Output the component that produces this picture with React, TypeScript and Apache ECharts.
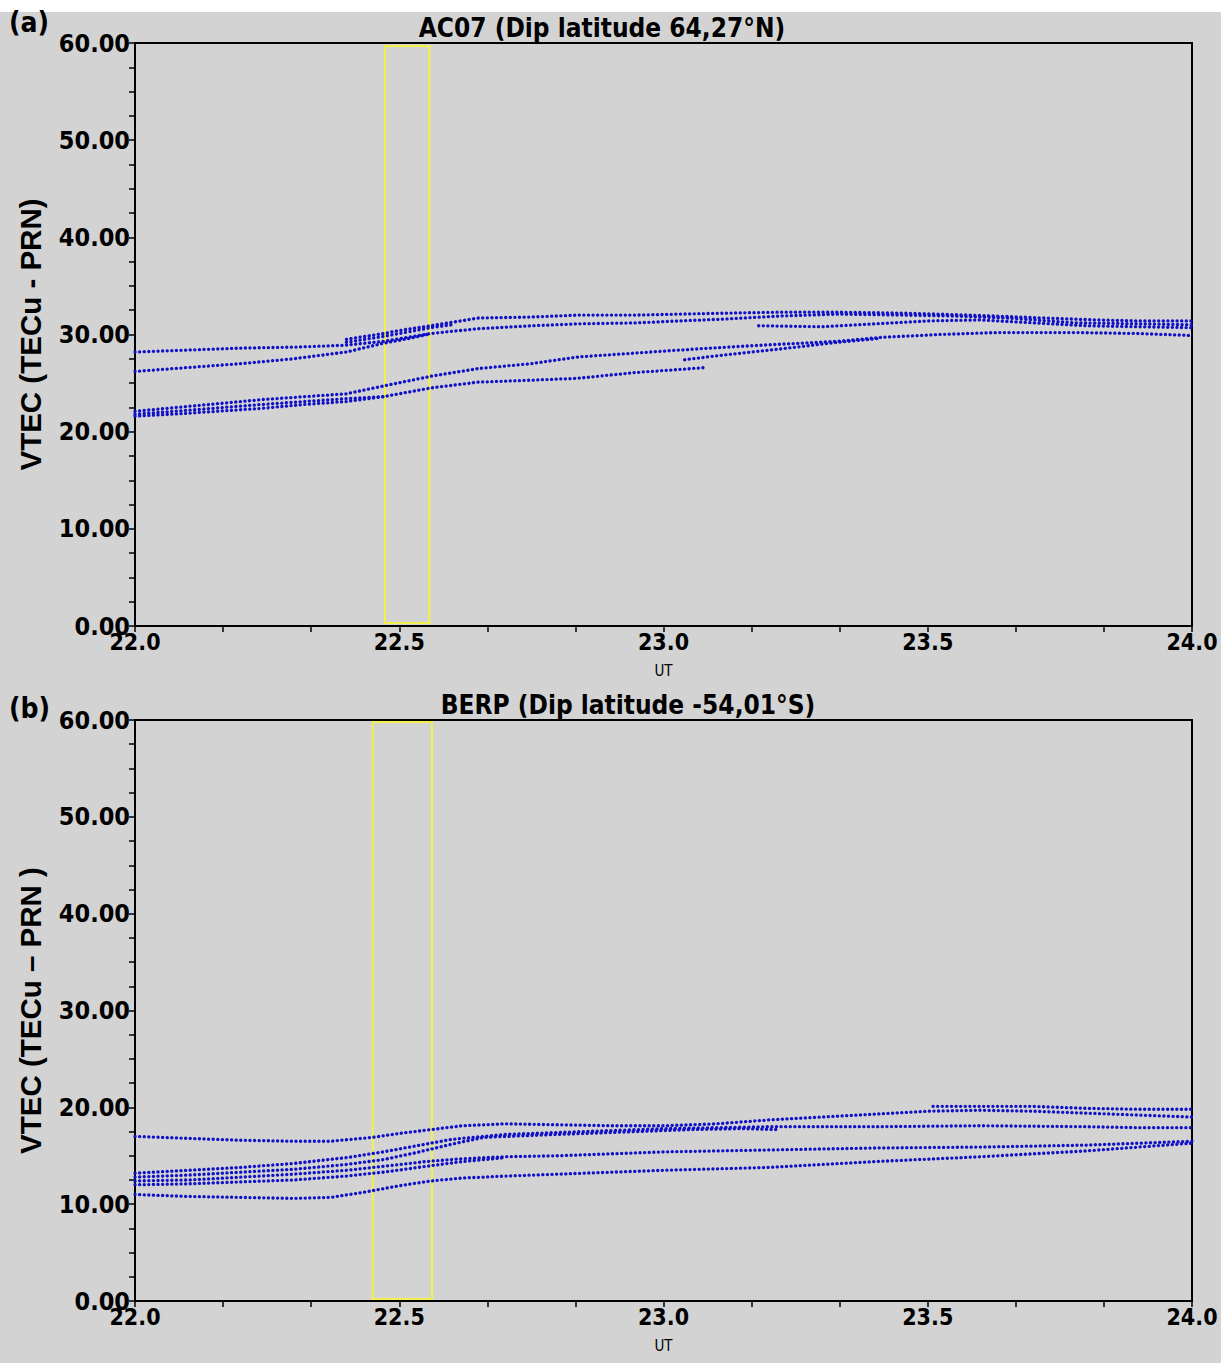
import React, { useEffect, useRef } from "react";
import * as echarts from "echarts";

// ---------- data (UT hours, VTEC in TECu) ----------
const X_MIN = 22;
const X_MAX = 24;
const Y_MIN = 0;
const Y_MAX = 60;

const panelTitles = ["AC07 (Dip latitude 64,27°N)", "BERP (Dip latitude -54,01°S)"];
const panelTags = ["(a)", "(b)"];
const yAxisNames = ["VTEC (TECu - PRN)", "VTEC (TECu – PRN )"];
const xAxisName = "UT";

// highlighted window [x0, y0, x1, y1]
const highlightA = [22.473, 0.3, 22.557, 59.7];
const highlightB = [22.45, 0.2, 22.562, 59.8];

// ----- AC07 tracks -----
const acTrackA = [[22.0, 28.2], [22.1, 28.4], [22.2, 28.6], [22.3, 28.7], [22.4, 28.9], [22.47, 29.3], [22.56, 30.1], [22.65, 30.6], [22.75, 30.9], [22.84, 31.1], [22.95, 31.2], [23.03, 31.4], [23.12, 31.6], [23.22, 31.9], [23.33, 32.1], [23.45, 32.0], [23.55, 31.9], [23.65, 31.7], [23.78, 31.2], [23.9, 31.1], [24.0, 31.0]];
const acTrackB = [[22.0, 26.2], [22.1, 26.6], [22.2, 27.0], [22.3, 27.5], [22.4, 28.2], [22.47, 29.1], [22.52, 29.6], [22.56, 30.1]];
const acTrackC = [[22.4, 29.5], [22.47, 30.1], [22.51, 30.5], [22.56, 30.9], [22.65, 31.7], [22.75, 31.8], [22.84, 32.0], [22.95, 32.0], [23.03, 32.1], [23.12, 32.2], [23.22, 32.3], [23.33, 32.3], [23.45, 32.2], [23.52, 32.1], [23.63, 31.9], [23.72, 31.7], [23.82, 31.5], [23.9, 31.4], [24.0, 31.4]];
const acTrackH = [[22.4, 29.2], [22.47, 29.8], [22.51, 30.2], [22.56, 30.7], [22.6, 31.0]];
const acTrackG = [[23.18, 30.9], [23.3, 30.8], [23.4, 31.1], [23.5, 31.4], [23.6, 31.5], [23.7, 31.2], [23.8, 30.9], [23.9, 30.8], [24.0, 30.7]];
const acTrackD = [[22.0, 22.1], [22.1, 22.6], [22.24, 23.3], [22.32, 23.6], [22.4, 23.9], [22.47, 24.7], [22.56, 25.7], [22.65, 26.5], [22.75, 27.0], [22.84, 27.7], [22.95, 28.1], [23.03, 28.4], [23.12, 28.7], [23.22, 29.0], [23.33, 29.3], [23.41, 29.7], [23.52, 30.0], [23.63, 30.2], [23.78, 30.2], [23.9, 30.1], [24.0, 29.9]];
const acTrackD2 = [[23.04, 27.4], [23.1, 27.8], [23.22, 28.5], [23.33, 29.2], [23.41, 29.6]];
const acTrackE = [[22.0, 21.6], [22.1, 21.9], [22.24, 22.4], [22.32, 22.8], [22.4, 23.1], [22.47, 23.6], [22.56, 24.5], [22.65, 25.1], [22.75, 25.3], [22.84, 25.5], [22.95, 26.1], [23.03, 26.4], [23.08, 26.6]];
const acTrackF = [[22.0, 21.8], [22.1, 22.2], [22.24, 22.8], [22.32, 23.1], [22.4, 23.4], [22.47, 23.6]];

// ----- BERP tracks -----
const berpTrack1 = [[22.0, 17.0], [22.1, 16.8], [22.2, 16.6], [22.3, 16.5], [22.37, 16.5], [22.45, 16.9], [22.5, 17.3], [22.56, 17.7], [22.62, 18.1], [22.7, 18.3], [22.8, 18.2], [22.9, 18.1], [23.0, 18.1], [23.1, 18.3], [23.2, 18.7], [23.3, 19.0], [23.4, 19.3], [23.5, 19.6], [23.6, 19.7], [23.7, 19.6], [23.8, 19.4], [23.9, 19.2], [24.0, 19.0]];
const berpTrack2 = [[23.51, 20.1], [23.6, 20.1], [23.7, 20.1], [23.8, 19.9], [23.9, 19.8], [24.0, 19.8]];
const berpTrack3 = [[22.0, 13.2], [22.1, 13.5], [22.2, 13.8], [22.3, 14.2], [22.4, 14.8], [22.47, 15.4], [22.53, 16.0], [22.6, 16.7], [22.7, 17.2], [22.8, 17.4], [22.9, 17.6], [23.0, 17.8], [23.1, 17.9], [23.2, 18.0], [23.4, 18.0], [23.6, 18.1], [23.8, 18.0], [23.9, 17.9], [24.0, 17.9]];
const berpTrack4 = [[22.0, 12.8], [22.1, 13.0], [22.2, 13.3], [22.3, 13.6], [22.4, 14.1], [22.47, 14.6], [22.53, 15.3], [22.6, 16.2], [22.66, 16.9], [22.75, 17.1], [22.85, 17.3], [22.95, 17.5], [23.05, 17.7], [23.15, 17.8], [23.22, 17.7]];
const berpTrack5 = [[22.0, 12.4], [22.1, 12.5], [22.2, 12.8], [22.3, 13.1], [22.4, 13.5], [22.47, 13.9], [22.55, 14.4], [22.62, 14.7], [22.7, 14.9], [22.8, 15.0], [22.9, 15.2], [23.0, 15.4], [23.2, 15.6], [23.4, 15.8], [23.6, 15.9], [23.8, 16.1], [24.0, 16.5]];
const berpTrack6 = [[22.0, 12.0], [22.1, 12.1], [22.2, 12.3], [22.3, 12.5], [22.4, 12.9], [22.47, 13.3], [22.55, 13.9], [22.62, 14.4], [22.7, 14.8]];
const berpTrack7 = [[22.0, 11.0], [22.1, 10.8], [22.2, 10.7], [22.3, 10.6], [22.37, 10.7], [22.43, 11.2], [22.5, 11.9], [22.56, 12.4], [22.62, 12.7], [22.7, 12.9], [22.8, 13.1], [22.9, 13.3], [23.0, 13.5], [23.2, 13.8], [23.4, 14.4], [23.6, 14.9], [23.8, 15.5], [23.9, 15.9], [24.0, 16.3]];

const acTracks = [acTrackA, acTrackB, acTrackC, acTrackH, acTrackG, acTrackD, acTrackD2, acTrackE, acTrackF];
const berpTracks = [berpTrack1, berpTrack2, berpTrack3, berpTrack4, berpTrack5, berpTrack6, berpTrack7];

// ---------- styles ----------
const BG = "#d3d3d3";
const DOT = "#1010c8";
const YELLOW = "#f2f04a";
const COND = "'DejaVu Sans Condensed', 'Liberation Sans Narrow', 'DejaVu Sans', sans-serif";
const ARIAL = "'Liberation Sans', Arial, sans-serif";

const GRID_LEFT = 135;
const GRID_WIDTH = 1057;
const GRID_TOPS = [43, 720];
const GRID_HEIGHTS = [583, 581];

function trackSeries(data: number[][], idx: number) {
  return {
    type: "line",
    xAxisIndex: idx,
    yAxisIndex: idx,
    data,
    showSymbol: false,
    symbol: "none",
    silent: true,
    z: 3,
    lineStyle: { color: DOT, width: 3.3, type: [0.1, 4.5], cap: "round" },
  };
}

function boxSeries(box: number[], idx: number) {
  return {
    type: "scatter",
    xAxisIndex: idx,
    yAxisIndex: idx,
    data: [],
    silent: true,
    z: 10,
    markArea: {
      silent: true,
      label: { show: false },
      itemStyle: { color: "rgba(0,0,0,0)", borderColor: YELLOW, borderWidth: 2 },
      data: [[{ coord: [box[0], box[1]] }, { coord: [box[2], box[3]] }]],
    },
  };
}

export default function App() {
  const ref = useRef<HTMLDivElement>(null);

  useEffect(() => {
    if (!ref.current) return;
    const chart = echarts.init(ref.current, undefined, { renderer: "svg" });

    const grids = [0, 1].map((i) => ({
      left: GRID_LEFT,
      top: GRID_TOPS[i],
      width: GRID_WIDTH,
      height: GRID_HEIGHTS[i],
      show: true,
      borderColor: "#000",
      borderWidth: 2,
      backgroundColor: "transparent",
    }));

    const xAxes = [0, 1].map((i) => ({
      gridIndex: i,
      type: "value",
      min: X_MIN,
      max: X_MAX,
      interval: 0.5,
      axisLine: { show: true, onZero: false, lineStyle: { color: "#000", width: 2 } },
      axisTick: { show: true, length: 6, lineStyle: { color: "#000", width: 1.5 } },
      minorTick: { show: true, splitNumber: 3, length: 6, lineStyle: { color: "#000", width: 1.5 } },
      splitLine: { show: false },
      axisLabel: {
        formatter: (v: number) => v.toFixed(1),
        fontFamily: COND,
        fontWeight: "bold",
        fontSize: 23,
        color: "#000",
        margin: 4,
      },
      name: xAxisName,
      nameLocation: "middle",
      nameGap: 37,
      nameTextStyle: { fontFamily: COND, fontSize: 15, color: "#000" },
    }));

    const yAxes = [0, 1].map((i) => ({
      gridIndex: i,
      type: "value",
      min: Y_MIN,
      max: Y_MAX,
      interval: 10,
      axisLine: { show: true, onZero: false, lineStyle: { color: "#000", width: 2 } },
      axisTick: { show: true, length: 6, lineStyle: { color: "#000", width: 1.5 } },
      minorTick: { show: true, splitNumber: 4, length: 6, lineStyle: { color: "#000", width: 1.5 } },
      splitLine: { show: false },
      axisLabel: {
        formatter: (v: number) => v.toFixed(2),
        fontFamily: COND,
        fontWeight: "bold",
        fontSize: 25,
        color: "#000",
        margin: 5,
      },
      name: yAxisNames[i],
      nameLocation: "middle",
      nameGap: 90,
      nameRotate: 90,
      nameTextStyle: { fontFamily: ARIAL, fontWeight: "bold", fontSize: 29.5, color: "#000" },
    }));

    const series: any[] = [];
    acTracks.forEach((t) => series.push(trackSeries(t, 0)));
    berpTracks.forEach((t) => series.push(trackSeries(t, 1)));
    series.push(boxSeries(highlightA, 0));
    series.push(boxSeries(highlightB, 1));

    const titleX = [602, 628];
    const titleY = [28, 705];
    const tagY = [22, 708];
    const graphic: any[] = [
      { type: "rect", shape: { x: 0, y: 0, width: 1221, height: 12 }, style: { fill: "#ffffff" }, z: 0 },
    ];
    [0, 1].forEach((i) => {
      graphic.push({
        type: "text",
        x: titleX[i],
        y: titleY[i],
        style: {
          text: panelTitles[i],
          fill: "#000",
          fontFamily: COND,
          fontWeight: "bold",
          fontSize: 26,
          align: "center",
          verticalAlign: "middle",
          textAlign: "center",
          textVerticalAlign: "middle",
        },
      });
      graphic.push({
        type: "text",
        x: 9,
        y: tagY[i],
        style: {
          text: panelTags[i],
          fill: "#000",
          fontFamily: COND,
          fontWeight: "bold",
          fontSize: 28,
          align: "left",
          verticalAlign: "middle",
          textAlign: "left",
          textVerticalAlign: "middle",
        },
      });
    });

    chart.setOption({
      animation: false,
      backgroundColor: BG,
      grid: grids,
      xAxis: xAxes,
      yAxis: yAxes,
      series,
      graphic,
    });

    return () => chart.dispose();
  }, []);

  return (
    <div
      ref={ref}
      style={{ position: "absolute", left: 0, top: 0, width: 1221, height: 1363, background: BG }}
    />
  );
}
